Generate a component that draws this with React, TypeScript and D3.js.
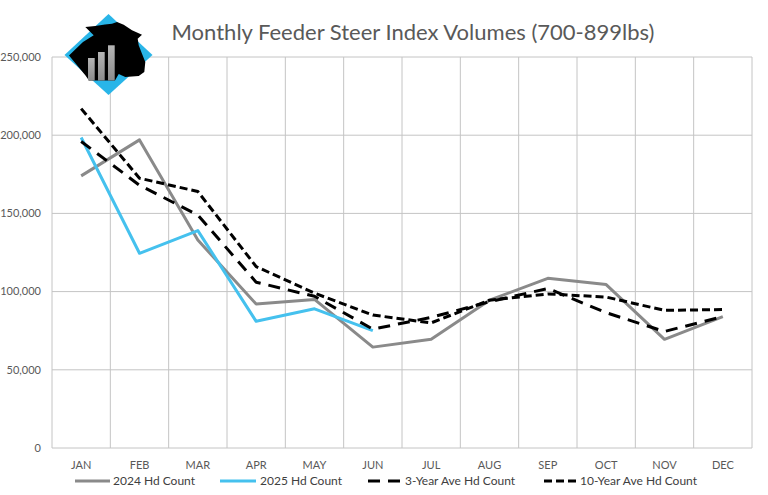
import React from 'react';
import * as d3 from 'd3';

// Monthly head counts, feeder steers 700-899 lbs
const months = ['JAN', 'FEB', 'MAR', 'APR', 'MAY', 'JUN', 'JUL', 'AUG', 'SEP', 'OCT', 'NOV', 'DEC'];
const hd2024 = [174000, 197000, 133000, 92000, 95000, 64500, 69500, 94500, 108500, 104500, 69500, 84000];
const hd2025 = [198500, 124500, 139000, 81000, 89000, 75000];
const ave3yr = [196000, 168000, 149000, 106000, 97000, 76000, 83500, 93500, 102000, 86500, 74500, 84000];
const ave10yr = [217000, 172500, 164000, 116000, 99000, 85000, 80000, 94500, 98500, 96500, 88000, 88500];
const yTicks = [0, 50000, 100000, 150000, 200000, 250000];

const W = 768;
const H = 495;
const FONT = "Lato, 'Open Sans', sans-serif";
const TEXT = '#595959';
const GRID = '#c4c4c4';

const C2024 = '#8a8a8a';
const C2025 = '#45c1ee';

const series = [
  { name: '2024 Hd Count', values: hd2024, color: C2024, dash: null as string | null },
  { name: '2025 Hd Count', values: hd2025, color: C2025, dash: null as string | null },
  { name: '3-Year Ave Hd Count', values: ave3yr, color: '#000', dash: '12,8' },
  { name: '10-Year Ave Hd Count', values: ave10yr, color: '#000', dash: '8,4' },
];

// Cattle-market badge: blue diamond, black steer head, rising bars
function Logo() {
  return (
    <g>
      <defs>
        <linearGradient id="barGrad" x1="0" x2="0" y1="0" y2="1">
          <stop offset="0" stopColor="#b5b5b5" />
          <stop offset="1" stopColor="#8c8c8c" />
        </linearGradient>
      </defs>
      <path d="M64.5,55 L108.5,14 L152.5,55 L108.5,95 Z" fill="#29b5e8" />
      <path
        d="M85.3,27 L95.3,26 L105,24.5 L112,23.7 L117,22 L123.7,24.7 L132,30.3 L142,34.7 L137.7,38.7 L138.7,45.3 L142,53.7 L145.3,62 L144.3,72 L138.7,76 L125.3,77 L118.7,74 L115,80.5 L89,80.5 L85.5,75.5 L69,55.5 L83,42 L93.7,35.3 Z"
        fill="#000"
      />
      <rect x={88} y={58} width={6.7} height={22.5} fill="url(#barGrad)" />
      <rect x={98} y={52} width={6.7} height={28.5} fill="url(#barGrad)" />
      <rect x={108} y={45.3} width={6.7} height={35.2} fill="url(#barGrad)" />
    </g>
  );
}

export default function App() {
  const left = 52;
  const right = 752;
  const top = 57;
  const bottom = 448;

  const x = d3.scaleBand<string>().domain(months).range([left, right]).paddingInner(0).paddingOuter(0);
  const cx = (i: number) => (x(months[i]) as number) + x.bandwidth() / 2;
  const y = d3.scaleLinear().domain([0, 250000]).range([bottom, top]);
  const fmt = d3.format(',');

  const line = d3
    .line<number>()
    .x((_, i) => cx(i))
    .y((d) => y(d));

  const boundaries = months.map((m) => (x(m) as number) + x.bandwidth());

  // legend layout: [line start, line end, text start]
  const legendPos = [
    [75, 110, 113],
    [220, 256, 260],
    [368, 400, 405],
    [544, 576, 580],
  ];

  return (
    <div style={{ position: 'fixed', left: 0, top: 0 }}>
      <svg width={W} height={H} viewBox={`0 0 ${W} ${H}`} style={{ display: 'block', background: '#fff' }}>
        <rect width={W} height={H} fill="#fff" />
        {/* horizontal gridlines */}
        {yTicks.map((t) => (
          <line key={`h${t}`} x1={left} x2={right} y1={y(t)} y2={y(t)} stroke={GRID} strokeWidth={1} />
        ))}
        {/* vertical gridlines between categories */}
        <line x1={left} x2={left} y1={top} y2={bottom} stroke={GRID} strokeWidth={1} />
        {boundaries.map((bx, i) => (
          <line key={`v${i}`} x1={bx} x2={bx} y1={top} y2={bottom} stroke={GRID} strokeWidth={1} />
        ))}
        {/* y tick labels */}
        {yTicks.map((t) => (
          <text
            key={`yl${t}`}
            x={41}
            y={y(t)}
            dy="0.35em"
            textAnchor="end"
            fontFamily={FONT}
            fontSize={11}
            fill={TEXT}
          >
            {fmt(t)}
          </text>
        ))}
        {/* month labels */}
        {months.map((m, i) => (
          <text key={m} x={cx(i)} y={465} dy="0.35em" textAnchor="middle" fontFamily={FONT} fontSize={11} fill={TEXT}>
            {m}
          </text>
        ))}
        {/* series */}
        {series.map((s) => (
          <path
            key={s.name}
            d={line(s.values) as string}
            fill="none"
            stroke={s.color}
            strokeWidth={3}
            strokeDasharray={s.dash ?? undefined}
            strokeLinejoin="round"
          />
        ))}
        {/* legend */}
        {series.map((s, i) => {
          const [a, b, t] = legendPos[i];
          return (
            <g key={`lg${s.name}`}>
              <line x1={a} x2={b} y1={481} y2={481} stroke={s.color} strokeWidth={3} strokeDasharray={s.dash ?? undefined} />
              <text x={t} y={481} dy="0.35em" fontFamily={FONT} fontSize={12} fill="#404040">
                {s.name}
              </text>
            </g>
          );
        })}
        {/* title */}
        <text x={413} y={32} dy="0.35em" textAnchor="middle" fontFamily={FONT} fontSize={22} fill={TEXT}>
          Monthly Feeder Steer Index Volumes (700-899lbs)
        </text>
        <Logo />
      </svg>
    </div>
  );
}
